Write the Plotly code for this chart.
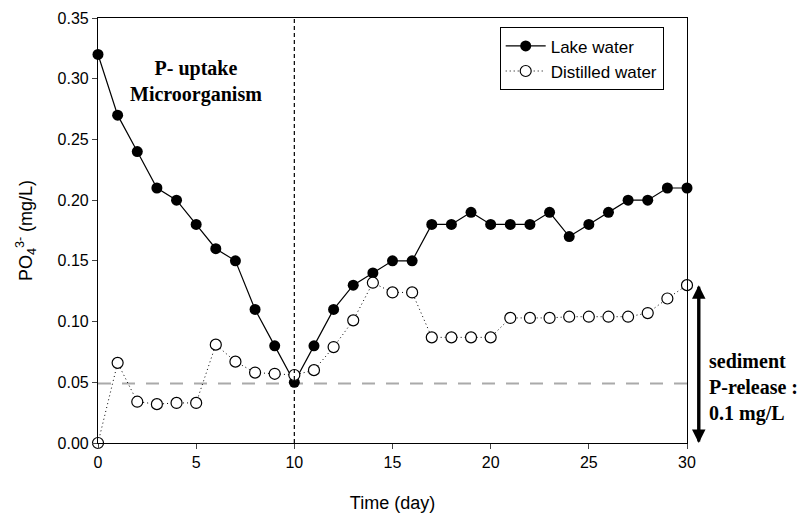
import plotly.graph_objects as go

days = list(range(31))
lake = [0.32, 0.27, 0.24, 0.21, 0.20, 0.18, 0.16, 0.15, 0.11, 0.08, 0.05,
        0.08, 0.11, 0.13, 0.14, 0.15, 0.15, 0.18, 0.18, 0.19, 0.18,
        0.18, 0.18, 0.19, 0.17, 0.18, 0.19, 0.20, 0.20, 0.21, 0.21]
distilled = [0.0, 0.066, 0.034, 0.032, 0.033, 0.033, 0.081, 0.067, 0.058, 0.057, 0.056,
             0.060, 0.079, 0.101, 0.132, 0.124, 0.124, 0.087, 0.087, 0.087, 0.087,
             0.103, 0.103, 0.103, 0.104, 0.104, 0.104, 0.104, 0.107, 0.119, 0.130]
baseline = 0.049
divider_day = 10
release_top = 0.13
x_ticks = [0, 5, 10, 15, 20, 25, 30]
y_ticks = [0.00, 0.05, 0.10, 0.15, 0.20, 0.25, 0.30, 0.35]

H, T, B = 515, 18, 72
y_max = 0.35
px_per_unit = (H - T - B) / y_max
arrow_len = release_top * px_per_unit

fig = go.Figure()
fig.add_trace(go.Scatter(x=[0, 30], y=[baseline, baseline], mode="lines",
                         line=dict(color="#aaaaaa", width=2, dash="13px,11px"),
                         showlegend=False, hoverinfo="skip"))
fig.add_trace(go.Scatter(x=days, y=lake, mode="lines+markers", name="Lake water",
                         line=dict(color="black", width=1.2),
                         marker=dict(symbol="circle", size=11, color="black"),
                         cliponaxis=False))
fig.add_trace(go.Scatter(x=days, y=distilled, mode="lines+markers", name="Distilled water",
                         line=dict(color="black", width=1, dash="1px,3px"),
                         marker=dict(symbol="circle", size=11, color="white",
                                     line=dict(width=1.2, color="black")),
                         cliponaxis=False))

fig.add_shape(type="line", x0=divider_day, x1=divider_day, y0=0, y1=y_max,
              xref="x", yref="y", line=dict(color="black", width=1.2, dash="4px,3px"))

# double arrow (paper x, data y)
fig.add_annotation(x=1.02, y=0.0, xref="paper", yref="y",
                   ax=0, ay=-arrow_len, axref="pixel", ayref="pixel",
                   showarrow=True, arrowhead=2, arrowsize=0.9,
                   arrowwidth=3, arrowcolor="black", text="")
fig.add_annotation(x=1.02, y=release_top, xref="paper", yref="y",
                   ax=0, ay=arrow_len, axref="pixel", ayref="pixel",
                   showarrow=True, arrowhead=2, arrowsize=0.9,
                   arrowwidth=3, arrowcolor="black", text="")

fig.add_annotation(x=1.034, y=0.046, xref="paper", yref="y", xanchor="left", yanchor="middle",
                   text="sediment<br>P-release :<br>0.1 mg/L", showarrow=False, align="left",
                   font=dict(family="Liberation Serif", size=20, color="black", weight="bold"))
fig.add_annotation(x=5.0, y=0.298, xref="x", yref="y", xanchor="center", yanchor="middle",
                   text="P- uptake<br>Microorganism", showarrow=False, align="center",
                   font=dict(family="Liberation Serif", size=20, color="black", weight="bold"))

fig.update_layout(
    width=805, height=H,
    margin=dict(l=98, r=118, t=T, b=B),
    paper_bgcolor="white", plot_bgcolor="white",
    font=dict(family="Liberation Sans", size=15, color="black"),
    legend=dict(x=0.682, y=0.978, xanchor="left", yanchor="top",
                bordercolor="black", borderwidth=1, bgcolor="white",
                font=dict(size=17), itemwidth=40),
    xaxis=dict(range=[0, 30], tickvals=x_ticks, ticks="outside", ticklen=5,
               showline=True, linecolor="black", linewidth=1.2, mirror=True,
               showgrid=False, zeroline=False, tickfont=dict(size=16), automargin=False,
               title=dict(text="Time (day)", font=dict(size=18), standoff=26)),
    yaxis=dict(range=[0, y_max], tickvals=y_ticks, tickformat=".2f", ticks="outside",
               ticklen=5, showline=True, linecolor="black", linewidth=1.2, mirror=True,
               showgrid=False, zeroline=False, tickfont=dict(size=16), automargin=False,
               title=dict(text="PO<sub>4</sub><sup>3-</sup> (mg/L)", font=dict(size=18),
                          standoff=20)),
)

fig.write_html("out.html")
